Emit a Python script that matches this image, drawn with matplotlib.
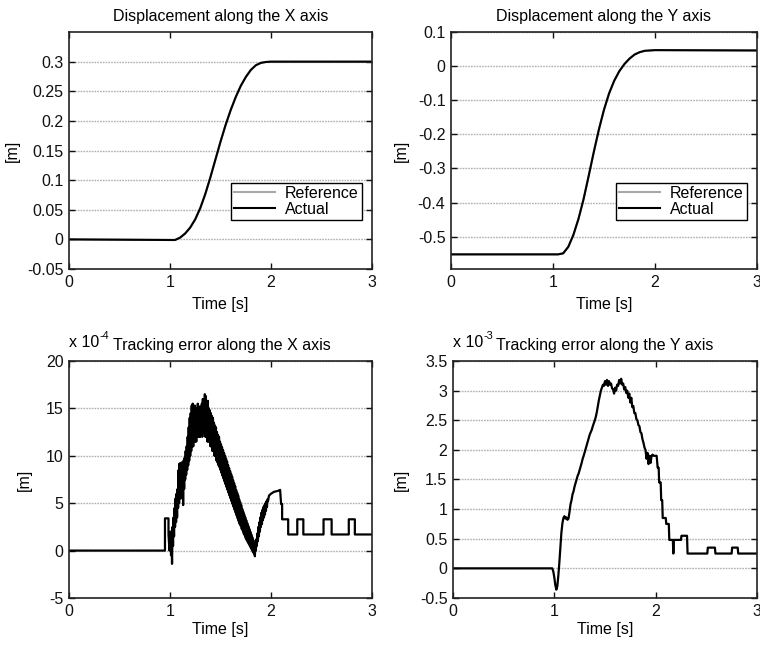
import numpy as np
import matplotlib
matplotlib.use("Agg")
import matplotlib.pyplot as plt

plt.rcParams["font.family"] = ["Liberation Sans", "DejaVu Sans"]
FS = 11.5
plt.rcParams["font.size"] = FS

# ---------------- displacement trajectories [m] ----------------
disp_t = [0.0, 1.0, 1.05, 1.1, 1.15, 1.2, 1.25, 1.3, 1.35, 1.4, 1.45, 1.5, 1.55,
          1.6, 1.65, 1.7, 1.75, 1.8, 1.85, 1.9, 1.95, 2.0, 3.0]
disp_x = [0.0, -0.001, -0.001, 0.003, 0.010, 0.020, 0.034, 0.053, 0.077, 0.105,
          0.135, 0.165, 0.193, 0.218, 0.240, 0.259, 0.274, 0.286, 0.294, 0.298,
          0.2995, 0.300, 0.300]
disp_y = [-0.552, -0.552, -0.552, -0.549, -0.530, -0.495, -0.448, -0.390, -0.322,
          -0.252, -0.186, -0.128, -0.080, -0.043, -0.015, 0.006, 0.022, 0.034,
          0.041, 0.045, 0.046, 0.047, 0.046]

# ---------------- tracking error along X [x 1e-4 m] ----------------
# quiet start and pulse before the motion
ex_pre_t = [0.0, 0.95, 0.95, 0.985, 0.985, 0.995]
ex_pre_v = [0.0, 0.0, 3.4, 3.4, 1.7, 0.0]
# vibrating part: lower / upper envelope every 10 ms from 1.00 s to 1.96 s
ex_band_lo = [0.5, -0.5, -1.4, 0.5, 1.5, 2.5, 3.0, 3.5, 4.5, 5.0,
              5.5, 6.0, 5.5, 4.8, 6.5, 7.5, 8.0, 8.5, 9.0, 9.5,
              10.0, 10.5, 11.0, 11.0, 11.5, 11.5, 11.5, 12.0, 12.0, 12.0,
              12.0, 12.5, 12.0, 12.5, 12.5, 12.0, 12.0, 11.5, 11.5, 11.5,
              11.0, 11.0, 10.5, 10.5, 10.0, 10.0, 9.5, 9.3, 9.0, 8.8,
              8.5, 8.2, 7.9, 7.6, 7.3, 7.0, 6.7, 6.4, 6.1, 5.8,
              5.5, 5.2, 4.9, 4.6, 4.3, 4.0, 3.7, 3.4, 3.1, 2.8,
              2.6, 2.3, 2.1, 1.8, 1.6, 1.3, 1.1, 0.9, 0.7, 0.5,
              0.3, 0.1, -0.1, -0.3, -0.6, 0.0, 0.5, 1.0, 1.5, 2.0,
              2.5, 2.8, 3.2, 3.5, 3.8, 4.2, 4.6]
ex_band_hi = [2.0, 1.5, 2.5, 3.5, 4.5, 5.5, 6.0, 6.5, 8.5, 9.2,
              8.8, 9.3, 9.0, 9.5, 9.8, 10.5, 11.0, 12.0, 13.0, 14.0,
              14.5, 15.3, 15.5, 15.0, 15.3, 14.5, 15.0, 15.5, 14.8, 15.2,
              15.0, 15.5, 16.0, 15.5, 16.5, 16.3, 15.5, 15.8, 15.0, 14.8,
              14.5, 14.2, 14.0, 13.5, 13.2, 13.0, 12.5, 12.2, 12.0, 11.5,
              11.2, 10.9, 10.6, 10.3, 10.0, 9.7, 9.4, 9.0, 8.7, 8.4,
              8.1, 7.8, 7.4, 7.1, 6.8, 6.4, 6.1, 5.8, 5.4, 5.1,
              4.8, 4.4, 4.1, 3.8, 3.5, 3.2, 2.9, 2.6, 2.3, 2.0,
              1.7, 1.4, 1.1, 0.8, 0.6, 1.2, 1.8, 2.5, 3.0, 3.5,
              4.0, 4.3, 4.6, 4.8, 5.0, 5.2, 5.4]
# settling and quantised tail
ex_post_t = [1.97, 1.98, 2.00, 2.03, 2.07, 2.09, 2.10, 2.11, 2.11, 2.17, 2.17,
             2.26, 2.26, 2.32, 2.32, 2.52, 2.52, 2.60, 2.60, 2.77, 2.77, 2.83,
             2.83, 3.0]
ex_post_v = [5.2, 5.8, 6.0, 6.2, 6.3, 6.4, 4.9, 4.9, 3.3, 3.3, 1.7,
             1.7, 3.3, 3.3, 1.7, 1.7, 3.3, 3.3, 1.7, 1.7, 3.3, 3.3,
             1.7, 1.7]

# ---------------- tracking error along Y [x 1e-3 m] ----------------
ey_t = [0.0, 0.98, 0.99, 1.00, 1.01, 1.02, 1.03, 1.04, 1.05, 1.06, 1.07, 1.08,
        1.09, 1.10, 1.11, 1.12, 1.13, 1.14, 1.15, 1.16, 1.17, 1.18, 1.19, 1.20,
        1.21, 1.22, 1.23, 1.24, 1.25, 1.26, 1.27, 1.28, 1.29, 1.30, 1.31, 1.32,
        1.33, 1.34, 1.35, 1.36, 1.37, 1.38, 1.39, 1.40, 1.41, 1.42, 1.43, 1.44,
        1.45, 1.46, 1.47, 1.48, 1.49, 1.50, 1.51, 1.52, 1.53, 1.54, 1.55, 1.56,
        1.57, 1.58, 1.59, 1.60, 1.61, 1.62, 1.63, 1.64, 1.65, 1.66, 1.67, 1.68,
        1.69, 1.70, 1.71, 1.72, 1.73, 1.74, 1.75, 1.76, 1.77, 1.78, 1.79, 1.80,
        1.81, 1.82, 1.83, 1.84, 1.85, 1.86, 1.87, 1.88, 1.89, 1.90, 1.91, 1.92,
        1.93, 1.94, 1.95, 1.96, 1.97, 1.98, 2.00, 2.01, 2.02, 2.03, 2.035, 2.05,
        2.055, 2.065, 2.07, 2.10, 2.105, 2.13, 2.135, 2.17, 2.175, 2.18, 2.25,
        2.255, 2.31, 2.315, 2.51, 2.515, 2.585, 2.59, 2.75, 2.755, 2.81, 2.815,
        3.0]
ey_v = [0.0, 0.0, -0.05, -0.15, -0.28, -0.36, -0.30, -0.12, 0.10, 0.35, 0.60, 0.76,
        0.85, 0.88, 0.84, 0.86, 0.82, 0.84, 0.95, 1.08, 1.15, 1.25, 1.30, 1.38,
        1.44, 1.50, 1.56, 1.60, 1.66, 1.72, 1.78, 1.85, 1.90, 1.96, 2.02, 2.08,
        2.14, 2.20, 2.26, 2.30, 2.34, 2.40, 2.45, 2.50, 2.56, 2.64, 2.74, 2.84,
        2.92, 3.00, 3.05, 3.10, 3.08, 3.16, 3.10, 3.18, 3.08, 3.16, 3.10, 3.12,
        3.04, 3.02, 2.95, 3.05, 3.00, 3.10, 3.08, 3.18, 3.12, 3.20, 3.10, 3.12,
        3.02, 3.06, 2.96, 3.00, 2.88, 2.95, 2.80, 2.88, 2.72, 2.74, 2.62, 2.62,
        2.52, 2.50, 2.42, 2.40, 2.30, 2.28, 2.18, 2.12, 2.04, 2.00, 1.85, 1.95,
        1.76, 1.90, 1.78, 1.90, 1.92, 1.90, 1.90, 1.90, 1.70, 1.70, 1.45, 1.45,
        1.15, 1.15, 0.85, 0.85, 0.75, 0.75, 0.48, 0.48, 0.25, 0.48, 0.48,
        0.55, 0.55, 0.25, 0.25, 0.35, 0.35, 0.25, 0.25, 0.35, 0.35, 0.25,
        0.25]

# interleave the X band envelopes into one vibrating trace
band_t0 = np.round(1.00 + 0.01 * np.arange(len(ex_band_lo)), 3)
band_t = np.empty(2 * len(band_t0))
band_v = np.empty(2 * len(band_t0))
band_t[0::2] = band_t0
band_t[1::2] = band_t0 + 0.005
band_v[0::2] = ex_band_lo
band_v[1::2] = ex_band_hi
ex_t = np.concatenate([ex_pre_t, band_t, ex_post_t])
ex_v = np.concatenate([ex_pre_v, band_v, ex_post_v])

GRID_KW = dict(color="#b0b0b0", linestyle=(0, (1.2, 0.8)), linewidth=1.0)


def style_axes(ax, ylim, yticks, yticklabels, ylab_x, xlab_y):
    ax.set_xlim(0, 3)
    ax.set_ylim(*ylim)
    ax.set_xticks([0, 1, 2, 3])
    ax.set_yticks(yticks)
    ax.set_yticklabels(yticklabels)
    ax.yaxis.grid(True, **GRID_KW)
    ax.set_axisbelow(True)
    ax.tick_params(direction="in", top=True, right=True, length=4,
                   width=1.0, labelsize=FS, pad=4, colors="#111111")
    for sp in ax.spines.values():
        sp.set_linewidth(1.2)
        sp.set_color("#222222")
    ax.set_xlabel("Time [s]", fontsize=FS)
    ax.set_ylabel("[m]", fontsize=FS)
    ax.yaxis.set_label_coords(ylab_x, 0.5)
    ax.xaxis.set_label_coords(0.5, xlab_y)


def scale_label(ax, exponent):
    base = ax.annotate("x 10", xy=(0, 1), xycoords="axes fraction",
                       xytext=(0, 10), textcoords="offset points",
                       ha="left", va="baseline", fontsize=FS)
    ax.annotate(exponent, xy=(1, 1), xycoords=base, xytext=(0.5, -0.5),
                textcoords="offset points", ha="left", va="center",
                fontsize=FS * 0.68)


fig = plt.figure(figsize=(7.6, 6.45), dpi=100)
ax1 = fig.add_axes([0.0908, 0.5829, 0.3987, 0.3674])
ax2 = fig.add_axes([0.5934, 0.5829, 0.4026, 0.3674])
ax3 = fig.add_axes([0.0908, 0.0729, 0.3987, 0.3674])
ax4 = fig.add_axes([0.5960, 0.0729, 0.4000, 0.3674])

# displacement along X
ax1.plot(disp_t, disp_x, color="#a8a8a8", lw=1.5, label="Reference")
ax1.plot(disp_t, disp_x, color="black", lw=1.5, label="Actual")
style_axes(ax1, (-0.05, 0.35), [-0.05, 0, 0.05, 0.1, 0.15, 0.2, 0.25, 0.3],
           ["-0.05", "0", "0.05", "0.1", "0.15", "0.2", "0.25", "0.3"],
           -0.162, -0.12)
ax1.set_title("Displacement along the X axis", fontsize=FS, pad=8)

# displacement along Y
ax2.plot(disp_t, disp_y, color="#a8a8a8", lw=1.5, label="Reference")
ax2.plot(disp_t, disp_y, color="black", lw=1.5, label="Actual")
style_axes(ax2, (-0.595, 0.1), [-0.5, -0.4, -0.3, -0.2, -0.1, 0, 0.1],
           ["-0.5", "-0.4", "-0.3", "-0.2", "-0.1", "0", "0.1"],
           -0.139, -0.12)
ax2.set_title("Displacement along the Y axis", fontsize=FS, pad=8)

for ax in (ax1, ax2):
    leg = ax.legend(loc="lower right", bbox_to_anchor=(0.967, 0.207),
                    borderaxespad=0, fancybox=False, framealpha=1,
                    edgecolor="black", fontsize=FS, handlelength=2.6,
                    handletextpad=0.6, borderpad=0.2, labelspacing=0.05)
    leg.get_frame().set_linewidth(1.0)

# tracking error along X
ax3.plot(ex_t, ex_v, color="black", lw=1.6)
style_axes(ax3, (-5, 20), [-5, 0, 5, 10, 15, 20],
           ["-5", "0", "5", "10", "15", "20"], -0.122, -0.1)
ax3.set_title("Tracking error along the X axis", fontsize=FS, pad=8, x=0.505)
scale_label(ax3, "-4")

# tracking error along Y
ax4.plot(ey_t, ey_v, color="black", lw=1.6)
style_axes(ax4, (-0.5, 3.5), [-0.5, 0, 0.5, 1, 1.5, 2, 2.5, 3, 3.5],
           ["-0.5", "0", "0.5", "1", "1.5", "2", "2.5", "3", "3.5"],
           -0.144, -0.1)
ax4.set_title("Tracking error along the Y axis", fontsize=FS, pad=8)
scale_label(ax4, "-3")

fig.savefig("out.png", dpi=100, facecolor="white")
